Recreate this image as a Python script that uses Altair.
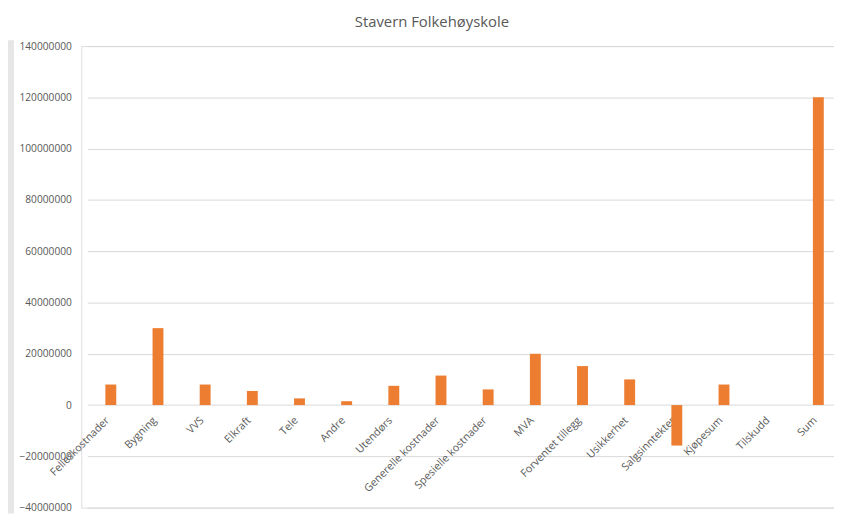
import altair as alt
import pandas as pd

categories = ["Felleskostnader", "Bygning", "VVS", "Elkraft", "Tele", "Andre",
              "Utendørs", "Generelle kostnader", "Spesielle kostnader", "MVA",
              "Forventet tillegg", "Usikkerhet", "Salgsinntekter", "Kjøpesum",
              "Tilskudd", "Sum"]
values = [8.0e6, 30.0e6, 8.0e6, 5.5e6, 2.6e6, 1.5e6,
          7.5e6, 11.5e6, 6.1e6, 20.0e6,
          15.2e6, 10.0e6, -15.8e6, 8.0e6,
          0.0, 120.0e6]
y_ticks = [-40000000, -20000000, 0, 20000000, 40000000, 60000000,
           80000000, 100000000, 120000000, 140000000]
title_text = "Stavern Folkehøyskole"

df = pd.DataFrame({"Kategori": categories, "Verdi": values})

FONT = "Open Sans"
GREY = "#595959"
PLOT_H = 466

bars = alt.Chart(df).mark_bar(size=11, color="#ED7D31").encode(
    x=alt.X("Kategori:N", sort=categories,
            scale=alt.Scale(range=[6, 768], paddingInner=0, paddingOuter=0),
            axis=alt.Axis(title=None, labelAngle=-45, labelAlign="right",
                          labelBaseline="middle", offset=-104, domain=False,
                          ticks=False, grid=False, labelPadding=14, labelOffset=-3,
                          labelFont=FONT, labelFontSize=10.8, labelColor=GREY,
                          labelOverlap=False)),
    y=alt.Y("Verdi:Q",
            scale=alt.Scale(domain=[-40000000, 140000000], nice=False, zero=False),
            axis=alt.Axis(title=None, values=y_ticks, format="d", grid=True,
                          gridColor="#d9d9d9", gridWidth=1, domain=False,
                          ticks=False, labelPadding=10, labelFont=FONT,
                          labelFontSize=10.3, labelColor=GREY)),
)

strip = alt.Chart(pd.DataFrame({"a": [0]})).mark_rect(color="#e6e6e6").encode(
    x=alt.value(-74), x2=alt.value(-68), y=alt.value(-6), y2=alt.value(PLOT_H + 6)
)

chart = alt.layer(strip, bars).properties(
    width=760, height=PLOT_H,
    title=alt.TitleParams(title_text, font=FONT, fontSize=15, fontWeight="normal",
                          color=GREY, offset=10, dx=-26, anchor="middle",
                          frame="group"),
    autosize=alt.AutoSizeParams(type="none"),
    padding={"left": 74, "top": 36, "right": 0, "bottom": 6},
).configure_view(stroke=None).configure(background="white")

chart.save("out.html", embed_options={"renderer": "svg", "actions": False})
